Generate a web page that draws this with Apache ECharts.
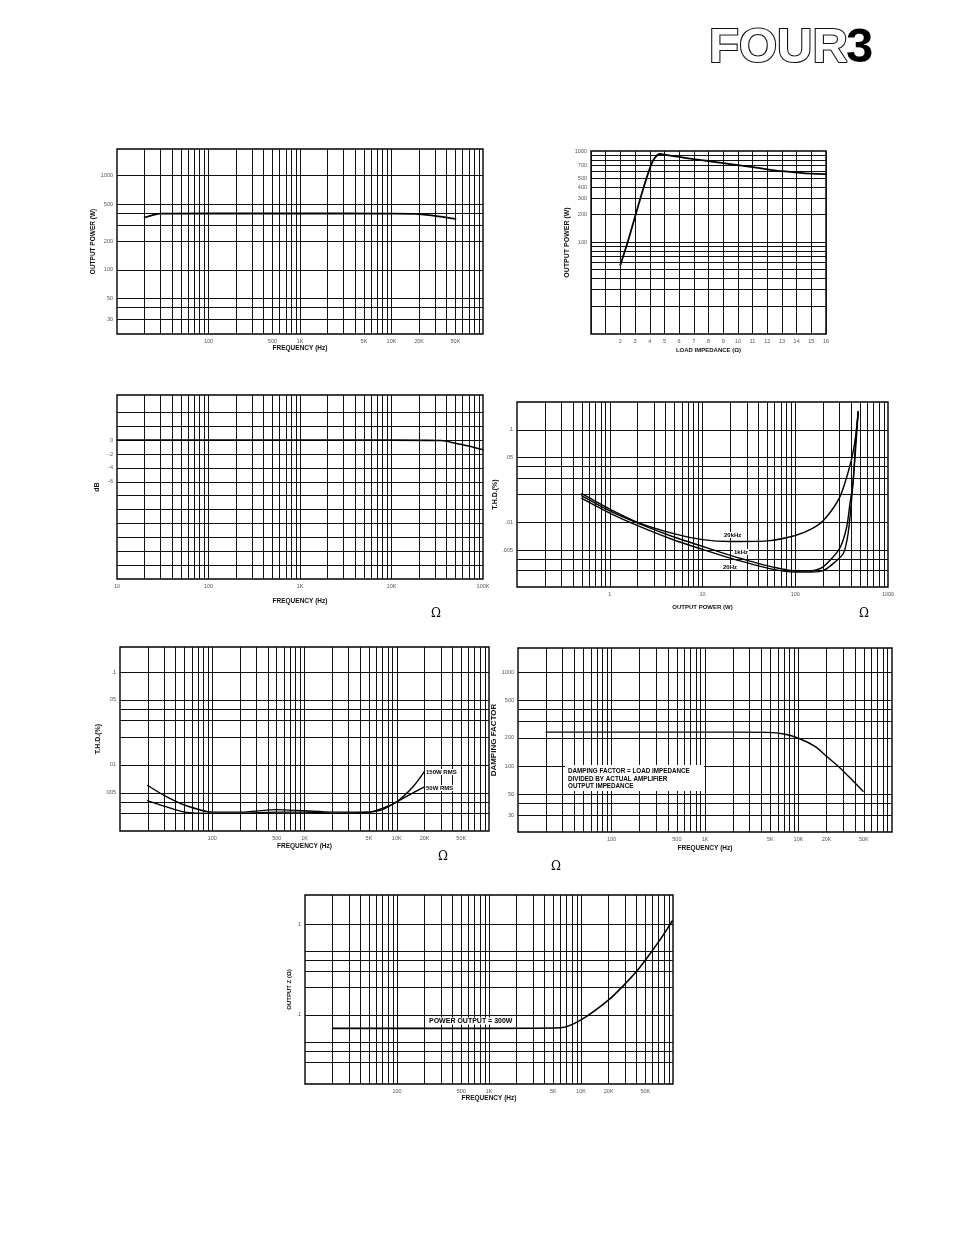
<!DOCTYPE html>
<html><head><meta charset="utf-8">
<script src="https://cdn.jsdelivr.net/npm/echarts@6/dist/echarts.min.js"></script>
<style>html,body{margin:0;padding:0;background:#fff;}#c{width:954px;height:1235px;}</style>
</head><body><div id="c"></div>
<script>
// ---------------- data ----------------
// 1: output power vs frequency
const p1FreqHz = [20, 30, 100, 1000, 10000, 18000, 30000, 50000];
const p1Watts  = [360, 395, 397, 397, 396, 393, 375, 348];
// 2: output power vs load impedance
const p2Ohms  = [2, 2.5, 3, 3.5, 4, 4.3, 4.7, 5, 6, 7, 8, 9, 10, 11, 12, 13, 14, 15, 16];
const p2Watts = [56, 100, 190, 360, 640, 820, 927, 910, 860, 815, 777, 737, 700, 665, 630, 600, 580, 565, 558];
// 3: frequency response (dB)
const p3FreqHz = [10, 100, 1000, 10000, 35000, 50000, 70000, 100000];
const p3Db     = [0, 0, 0, 0, -0.05, -0.45, -0.85, -1.4];
// 4: THD vs output power
const p4x20k = [0.5, 1, 2, 5, 10, 20, 50, 100, 150, 200, 300, 400, 450, 477];
const p4y20k = [0.0204, 0.0139, 0.0100, 0.0075, 0.0065, 0.0062, 0.0063, 0.0072, 0.0085, 0.0104, 0.0185, 0.0458, 0.088, 0.157];
const p4x1k  = [0.5, 1, 2, 5, 10, 20, 50, 100, 150, 200, 300, 358, 388, 421, 450, 477];
const p4y1k  = [0.0193, 0.0133, 0.0098, 0.0069, 0.0055, 0.0044, 0.0034, 0.0030, 0.0030, 0.0033, 0.0052, 0.0088, 0.0157, 0.028, 0.081, 0.157];
const p4x20  = [0.5, 1, 2, 5, 10, 20, 50, 100, 150, 200, 258, 330, 371, 404, 438, 477];
const p4y20  = [0.0182, 0.0126, 0.0092, 0.0064, 0.0051, 0.0041, 0.0032, 0.0029, 0.0029, 0.0030, 0.0036, 0.0046, 0.0075, 0.017, 0.046, 0.157];
// 5: THD vs frequency
const p5FreqHz = [20, 30, 50, 100, 200, 500, 1000, 2000, 5000, 7000, 10000, 15000, 20000];
const p5Thd150 = [0.0060, 0.0047, 0.0037, 0.0031, 0.0031, 0.0033, 0.0032, 0.0031, 0.0031, 0.0034, 0.0040, 0.0058, 0.0085];
const p5Thd50  = [0.0041, 0.0036, 0.0031, 0.0030, 0.0030, 0.0031, 0.0031, 0.0030, 0.0031, 0.0033, 0.0040, 0.0050, 0.0058];
// 6: damping factor vs frequency
const p6FreqHz = [20, 100, 1000, 4700, 7000, 10000, 15000, 20000, 28000, 36000, 49000];
const p6Df     = [230, 230, 230, 229, 220, 198, 162, 127, 95, 74, 54];
// 7: output impedance vs frequency
const p7FreqHz = [20, 100, 1000, 6000, 10000, 20000, 30000, 40000, 50000, 70000, 90000, 98000];
const p7Ohms   = [0.071, 0.071, 0.071, 0.072, 0.088, 0.146, 0.218, 0.30, 0.40, 0.64, 0.94, 1.08];

// tick labels
const freqLabels    = [100, 500, 1000, 5000, 10000, 20000, 50000];
const freqLabelsDec = [10, 100, 1000, 10000, 100000];
const wattLabels    = [30, 50, 100, 200, 500, 1000];
const wattLines     = [30, 40, 50, 100, 200, 300, 400, 500, 1000];
const loadYLabels   = [100, 200, 300, 400, 500, 700, 1000];
const dbLabels      = [0, -2, -4, -6];
const thdLabels     = [0.1, 0.05, 0.01, 0.005];
const thdLines      = [0.003, 0.004, 0.005, 0.01, 0.02, 0.03, 0.04, 0.05, 0.1];
const powerXLabels  = [1, 10, 100, 1000];
const zLabels       = [1, 0.1];
const zLines        = [0.03, 0.04, 0.05, 0.1, 0.2, 0.3, 0.4, 0.5, 1];

// ---------------- helpers ----------------
const FONT = '"Liberation Sans", Arial, sans-serif';
function logLines(a, b) {
  const out = [];
  for (let d = a; d < b * 0.999; d *= 10) {
    for (let k = 1; k < 10; k++) {
      const v = +(d * k).toPrecision(6);
      if (v > a * 1.0001 && v < b * 0.999) out.push(v);
    }
  }
  return out;
}
const fmtFreq = v => v >= 1000 ? (v / 1000) + 'K' : String(v);
const fmtDot = v => String(+v.toPrecision(6)).replace(/^0\./, '.');
const zip = (xs, ys) => xs.map((x, i) => [x, ys[i]]);

const grids = [
  {left: 117, top: 149, width: 366, height: 185},
  {left: 591, top: 151, width: 235, height: 183},
  {left: 117, top: 395, width: 366, height: 184},
  {left: 517, top: 402, width: 371, height: 185},
  {left: 120, top: 647, width: 369, height: 184},
  {left: 518, top: 648, width: 374, height: 184},
  {left: 305, top: 895, width: 368, height: 189}
].map(g => Object.assign(g, {show: true, borderColor: '#000', borderWidth: 1.4, backgroundColor: '#fff'}));

function ax(gi, o) {
  const a = {
    gridIndex: gi, type: o.type || 'log', logBase: 10, min: o.min, max: o.max,
    name: o.name, nameLocation: 'middle', nameGap: o.gap, nameRotate: o.rot || 0,
    nameTextStyle: {fontFamily: FONT, fontWeight: 'bold', fontSize: o.nsize || 6.5, color: '#111'},
    axisLine: {show: false},
    axisTick: {show: false},
    splitLine: {show: true, lineStyle: {color: '#111', width: 1}},
    axisLabel: {fontSize: 5.5, color: '#555', fontFamily: FONT, margin: o.margin || 4,
      hideOverlap: false, showMinLabel: true, showMaxLabel: true, formatter: o.fmt}
  };
  if (o.interval) a.interval = o.interval;
  if (o.lines) a.axisTick.customValues = o.lines;
  if (o.labels) a.axisLabel.customValues = o.labels;
  return a;
}

const xAxis = [
  ax(0, {min: 10, max: 100000, lines: logLines(10, 100000), labels: freqLabels, fmt: fmtFreq, name: 'FREQUENCY (Hz)', gap: 11}),
  ax(1, {type: 'value', min: 0, max: 16, interval: 1, fmt: v => v >= 2 ? String(v) : '', name: 'LOAD IMPEDANCE (\u03A9)', gap: 13, nsize: 6}),
  ax(2, {min: 10, max: 100000, lines: logLines(10, 100000), labels: freqLabelsDec, fmt: fmtFreq, name: 'FREQUENCY (Hz)', gap: 19}),
  ax(3, {min: 0.1, max: 1000, lines: logLines(0.1, 1000), labels: powerXLabels, fmt: v => String(v), name: 'OUTPUT POWER (W)', gap: 17, nsize: 6}),
  ax(4, {min: 10, max: 100000, lines: logLines(10, 100000), labels: freqLabels, fmt: fmtFreq, name: 'FREQUENCY (Hz)', gap: 12}),
  ax(5, {min: 10, max: 100000, lines: logLines(10, 100000), labels: freqLabels, fmt: fmtFreq, name: 'FREQUENCY (Hz)', gap: 13}),
  ax(6, {min: 10, max: 100000, lines: logLines(10, 100000), labels: freqLabels, fmt: fmtFreq, name: 'FREQUENCY (Hz)', gap: 11})
];
const yAxis = [
  ax(0, {min: 20.9, max: 1919, lines: wattLines, labels: wattLabels, fmt: v => String(v), name: 'OUTPUT POWER (W)', gap: 16, rot: 90}),
  ax(1, {min: 9.8, max: 1000, lines: logLines(10, 1000).concat([100]), labels: loadYLabels, fmt: v => String(v), name: 'OUTPUT POWER (W)', gap: 19, rot: 90, nsize: 7}),
  ax(2, {type: 'value', min: -20, max: 6.5, lines: [-18, -16, -14, -12, -10, -8, -6, -4, -2, 0, 2, 4], labels: dbLabels, fmt: v => String(v), name: 'dB', gap: 16, rot: 90, nsize: 7}),
  ax(3, {min: 0.002, max: 0.2, lines: thdLines, labels: thdLabels, fmt: fmtDot, name: 'T.H.D.(%)', gap: 10, rot: 90, nsize: 7}),
  ax(4, {min: 0.00194, max: 0.186, lines: thdLines, labels: thdLabels, fmt: fmtDot, name: 'T.H.D.(%)', gap: 12, rot: 90, nsize: 7}),
  ax(5, {min: 19.8, max: 1817, lines: wattLines, labels: wattLabels, fmt: v => String(v), name: 'DAMPING FACTOR', gap: 12, rot: 90, nsize: 8}),
  ax(6, {min: 0.0173, max: 2.09, lines: zLines, labels: zLabels, fmt: fmtDot, name: 'OUTPUT Z (\u03A9)', gap: 13, rot: 90, nsize: 6})
];

function line(i, xs, ys, w) {
  return {type: 'line', xAxisIndex: i, yAxisIndex: i, data: zip(xs, ys), symbol: 'none', showSymbol: false,
    smooth: 0.25, silent: true, animation: false, z: 5,
    lineStyle: {color: '#000', width: w || 1.6, join: 'round', cap: 'round'}};
}
const series = [
  line(0, p1FreqHz, p1Watts, 1.8),
  line(1, p2Ohms, p2Watts, 1.8),
  line(2, p3FreqHz, p3Db, 1.6),
  line(3, p4x20k, p4y20k, 1.4),
  line(3, p4x1k, p4y1k, 1.4),
  line(3, p4x20, p4y20, 1.4),
  line(4, p5FreqHz, p5Thd150, 1.4),
  line(4, p5FreqHz, p5Thd50, 1.4),
  line(5, p6FreqHz, p6Df, 1.4),
  line(6, p7FreqHz, p7Ohms, 1.6)
];

function note(x, y, text, size) {
  return {type: 'text', x: x, y: y, z: 100,
    style: {text: text, fontFamily: FONT, fontWeight: 'bold', fontSize: size || 6, fill: '#000',
      verticalAlign: 'middle', backgroundColor: '#fff', padding: [0, 1]}};
}
function omega(x, y) {
  return {type: 'text', x: x, y: y, style: {text: '\u03A9', fontFamily: '"DejaVu Serif", serif', fontSize: 12, fill: '#000', align: 'center', verticalAlign: 'middle'}};
}
const graphic = [
  {type: 'text', x: 709, y: 48, style: {text: 'FOUR', fontFamily: FONT, fontWeight: 'bold', fontSize: 49, fill: '#fff', stroke: '#111', lineWidth: 2.2, verticalAlign: 'middle'}},
  {type: 'text', x: 846, y: 48, style: {text: '3', fontFamily: FONT, fontWeight: 'bold', fontSize: 49, fill: '#000', verticalAlign: 'middle'}},
  omega(436, 614), omega(864, 614), omega(443, 857), omega(556, 867),
  note(723, 535, '20kHz'), note(733, 552, '1kHz'), note(722, 567, '20Hz'),
  note(425, 772, '150W RMS'), note(425, 788, '50W RMS'),
  {type: 'rect', shape: {x: 565, y: 765, width: 139, height: 26}, style: {fill: '#fff'}, z: 99},
  note(567, 771, 'DAMPING FACTOR = LOAD IMPEDANCE', 6.3),
  note(567, 779, 'DIVIDED BY ACTUAL AMPLIFIER', 6.3),
  note(567, 786, 'OUTPUT IMPEDANCE', 6.3),
  note(428, 1021, 'POWER OUTPUT = 300W', 7)
];

const chart = echarts.init(document.getElementById('c'), null, {renderer: 'canvas'});
chart.setOption({animation: false, backgroundColor: '#fff', grid: grids, xAxis: xAxis, yAxis: yAxis, series: series, graphic: graphic});
</script></body></html>
